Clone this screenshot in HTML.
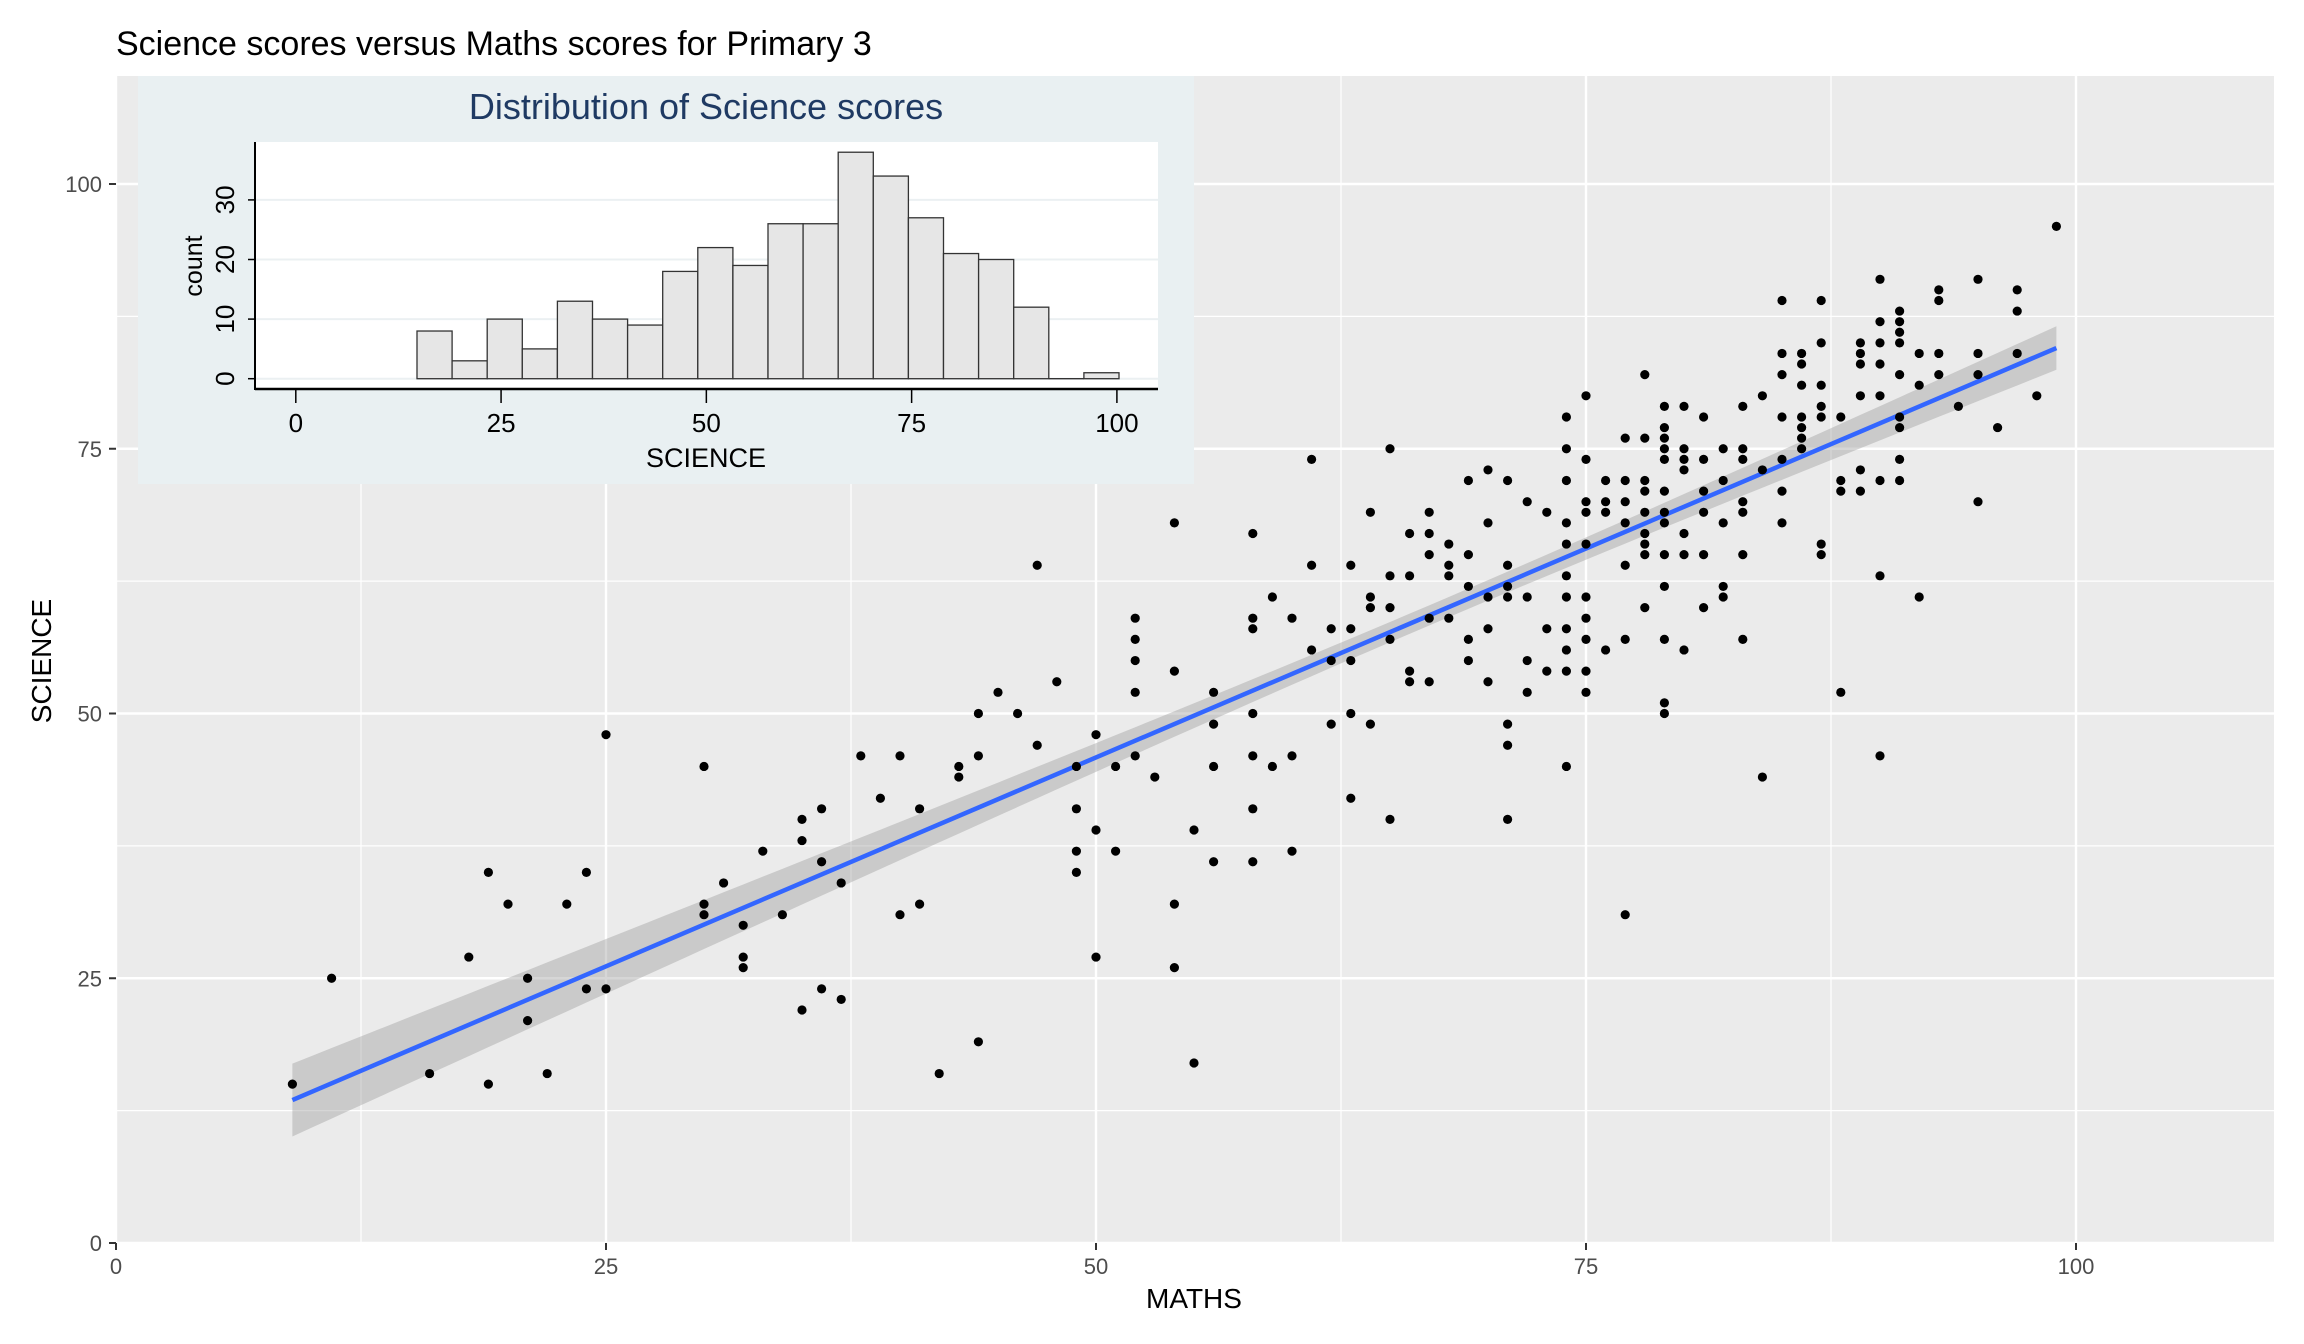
<!DOCTYPE html>
<html><head><meta charset="utf-8">
<style>
html,body{margin:0;padding:0;background:#fff;}
svg{display:block;font-family:"Liberation Sans",Arial,sans-serif;}
</style></head>
<body>
<svg id="s" width="2304" height="1344" viewBox="0 0 2304 1344" xmlns="http://www.w3.org/2000/svg">
<rect x="0" y="0" width="2304" height="1344" fill="#fff"/>
<text x="116" y="55" font-size="34" fill="#000">Science scores versus Maths scores for Primary 3</text>
<rect x="116" y="76" width="2158" height="1167" fill="#ebebeb"/>
<g id="grid"></g>
<g id="ribbon"></g>
<g id="pts"></g>
<g id="axes"></g>
<rect x="138" y="76" width="1056" height="408" fill="#e9f0f2"/>
<text x="706" y="119" font-size="36" fill="#1f3a63" text-anchor="middle">Distribution of Science scores</text>
<rect x="255" y="142" width="903" height="247" fill="#fff"/>
<g id="hist"></g>
</svg>
<script>
var NS="http://www.w3.org/2000/svg";
function el(p,t,a,txt){var e=document.createElementNS(NS,t);for(var k in a)e.setAttribute(k,a[k]);if(txt!==undefined)e.textContent=txt;document.getElementById(p).appendChild(e);return e;}
var X0=116,XS=19.6,Y0=1243,YS=10.59;
function px(x){return X0+x*XS;} function py(y){return Y0-y*YS;}
for(var v=12.5;v<=110;v+=25){el("grid","line",{x1:px(v),x2:px(v),y1:76,y2:1243,stroke:"#fff","stroke-width":1.2});el("grid","line",{x1:116,x2:2274,y1:py(v),y2:py(v),stroke:"#fff","stroke-width":1.2});}
for(var v=0;v<=100;v+=25){el("grid","line",{x1:px(v),x2:px(v),y1:76,y2:1243,stroke:"#fff","stroke-width":2.4});el("grid","line",{x1:116,x2:2274,y1:py(v),y2:py(v),stroke:"#fff","stroke-width":2.4});}
var a=6.4,b=0.789;
function se(x){var d=x-67;return Math.sqrt(1.0+ d*d*0.0036)*0.95;}
var up=[],lo=[];
for(var x=9;x<=99.01;x+=1){up.push(px(x)+","+py(a+b*x+se(x)));lo.unshift(px(x)+","+py(a+b*x-se(x)));}
el("ribbon","polygon",{points:up.concat(lo).join(" "),fill:"#999",opacity:0.4});
el("ribbon","line",{x1:px(9),y1:py(a+b*9),x2:px(99),y2:py(a+b*99),stroke:"#3366ff","stroke-width":4.5});
var P=[[9,15],[11,25],[16,16],[18,27],[19,35],[19,15],[20,32],[21,25],[21,21],[22,16],[23,32],[24,35],[24,24],[25,24],[25,48],[30,45],[30,32],[30,31],[31,34],[32,30],[32,27],[32,26],[33,37],[34,31],[35,40],[35,38],[35,22],[36,41],[36,36],[36,24],[37,34],[37,23],[38,46],[39,42],[40,46],[40,31],[41,41],[41,32],[42,16],[43,45],[43,44],[44,50],[44,46],[44,19],[45,52],[46,50],[47,64],[47,47],[48,53],[49,45],[49,41],[49,37],[49,35],[50,48],[50,39],[50,27],[51,45],[51,37],[52,59],[52,57],[52,55],[52,52],[52,46],[53,44],[54,68],[54,54],[54,32],[54,26],[55,39],[55,17],[56,52],[56,49],[56,45],[56,36],[58,67],[58,59],[58,58],[58,50],[58,46],[58,41],[58,36],[59,61],[59,45],[60,59],[60,46],[60,37],[61,64],[61,56],[61,74],[62,58],[62,55],[62,49],[63,64],[63,58],[63,55],[63,50],[63,42],[64,69],[64,61],[64,60],[64,49],[65,75],[65,63],[65,60],[65,57],[65,40],[66,67],[66,63],[66,54],[66,53],[67,69],[67,67],[67,65],[67,59],[67,53],[68,66],[68,64],[68,63],[68,59],[69,72],[69,65],[69,62],[69,57],[69,55],[70,73],[70,68],[70,61],[70,58],[70,53],[71,72],[71,64],[71,62],[71,61],[71,49],[71,47],[71,40],[72,70],[72,61],[72,55],[72,52],[73,69],[73,58],[73,54],[74,78],[74,75],[74,72],[74,68],[74,66],[74,63],[74,61],[74,58],[74,56],[74,54],[74,45],[75,80],[75,74],[75,70],[75,69],[75,66],[75,61],[75,59],[75,57],[75,54],[75,52],[76,72],[76,70],[76,69],[76,56],[77,76],[77,72],[77,70],[77,68],[77,64],[77,57],[77,31],[78,82],[78,76],[78,72],[78,71],[78,69],[78,67],[78,66],[78,65],[78,60],[79,79],[79,77],[79,76],[79,75],[79,74],[79,71],[79,69],[79,68],[79,65],[79,62],[79,57],[79,51],[79,50],[80,79],[80,75],[80,74],[80,73],[80,67],[80,65],[80,56],[81,78],[81,74],[81,71],[81,69],[81,65],[81,60],[82,75],[82,72],[82,68],[82,62],[82,61],[83,79],[83,75],[83,74],[83,70],[83,69],[83,65],[83,57],[84,80],[84,73],[84,44],[85,89],[85,84],[85,82],[85,78],[85,74],[85,71],[85,68],[86,84],[86,83],[86,81],[86,78],[86,77],[86,76],[86,75],[87,89],[87,85],[87,81],[87,79],[87,78],[87,66],[87,65],[88,78],[88,72],[88,71],[88,52],[89,85],[89,84],[89,83],[89,80],[89,73],[89,71],[90,91],[90,87],[90,85],[90,83],[90,80],[90,72],[90,63],[90,46],[91,88],[91,87],[91,86],[91,85],[91,82],[91,78],[91,77],[91,74],[91,72],[92,84],[92,81],[92,61],[93,90],[93,89],[93,84],[93,82],[94,79],[95,91],[95,84],[95,82],[95,70],[96,77],[97,90],[97,88],[97,84],[98,80],[99,96]];
P.forEach(function(p){el("pts","circle",{cx:px(p[0]),cy:py(p[1]),r:4.6,fill:"#000"});});
for(var v=0;v<=100;v+=25){
 el("axes","line",{x1:px(v),x2:px(v),y1:1243,y2:1250,stroke:"#333","stroke-width":2});
 el("axes","text",{x:px(v),y:1274,"font-size":22,fill:"#4d4d4d","text-anchor":"middle"},String(v));
 el("axes","line",{x1:109,x2:116,y1:py(v),y2:py(v),stroke:"#333","stroke-width":2});
 el("axes","text",{x:102,y:py(v)+8,"font-size":22,fill:"#4d4d4d","text-anchor":"end"},String(v));
}
el("axes","text",{x:px(55),y:1308,"font-size":28,fill:"#000","text-anchor":"middle"},"MATHS");
el("axes","text",{x:0,y:0,"font-size":28,fill:"#000","text-anchor":"middle",transform:"translate(51,661) rotate(-90)"},"SCIENCE");
var HX0=295.8,HXS=8.211,HY0=378.7,HYS=5.96;
[0,10,20,30].forEach(function(c){el("hist","line",{x1:255,x2:1158,y1:HY0-c*HYS,y2:HY0-c*HYS,stroke:"#ebf0f2","stroke-width":2});
 el("hist","line",{x1:248,x2:255,y1:HY0-c*HYS,y2:HY0-c*HYS,stroke:"#000","stroke-width":1.5});
 el("hist","text",{x:0,y:0,"font-size":26,fill:"#000","text-anchor":"middle",transform:"translate(234,"+(HY0-c*HYS)+") rotate(-90)"},String(c));});
el("hist","text",{x:0,y:0,"font-size":25,fill:"#000","text-anchor":"middle",transform:"translate(202,266) rotate(-90)"},"count");
var counts=[8,3,10,5,13,10,9,18,22,19,26,26,38,34,27,21,20,12,0,1];
var bw=35.1,bx=417;
counts.forEach(function(c,i){if(c>0)el("hist","rect",{x:bx+i*bw,y:HY0-c*HYS,width:bw,height:c*HYS,fill:"#e6e6e6",stroke:"#333","stroke-width":1.3});});
el("hist","line",{x1:bx+18*bw,x2:bx+19*bw,y1:HY0,y2:HY0,stroke:"#333","stroke-width":1.3});
el("hist","line",{x1:255,x2:255,y1:142,y2:390,stroke:"#000","stroke-width":2});
el("hist","line",{x1:255,x2:1158,y1:389,y2:389,stroke:"#000","stroke-width":2.5});
for(var v=0;v<=100;v+=25){var xx=HX0+v*HXS;
 el("hist","line",{x1:xx,x2:xx,y1:389,y2:403,stroke:"#000","stroke-width":1.5});
 el("hist","text",{x:xx,y:432,"font-size":26,fill:"#000","text-anchor":"middle"},String(v));}
el("hist","text",{x:706,y:467,"font-size":27,fill:"#000","text-anchor":"middle"},"SCIENCE");
</script>
</body></html>
